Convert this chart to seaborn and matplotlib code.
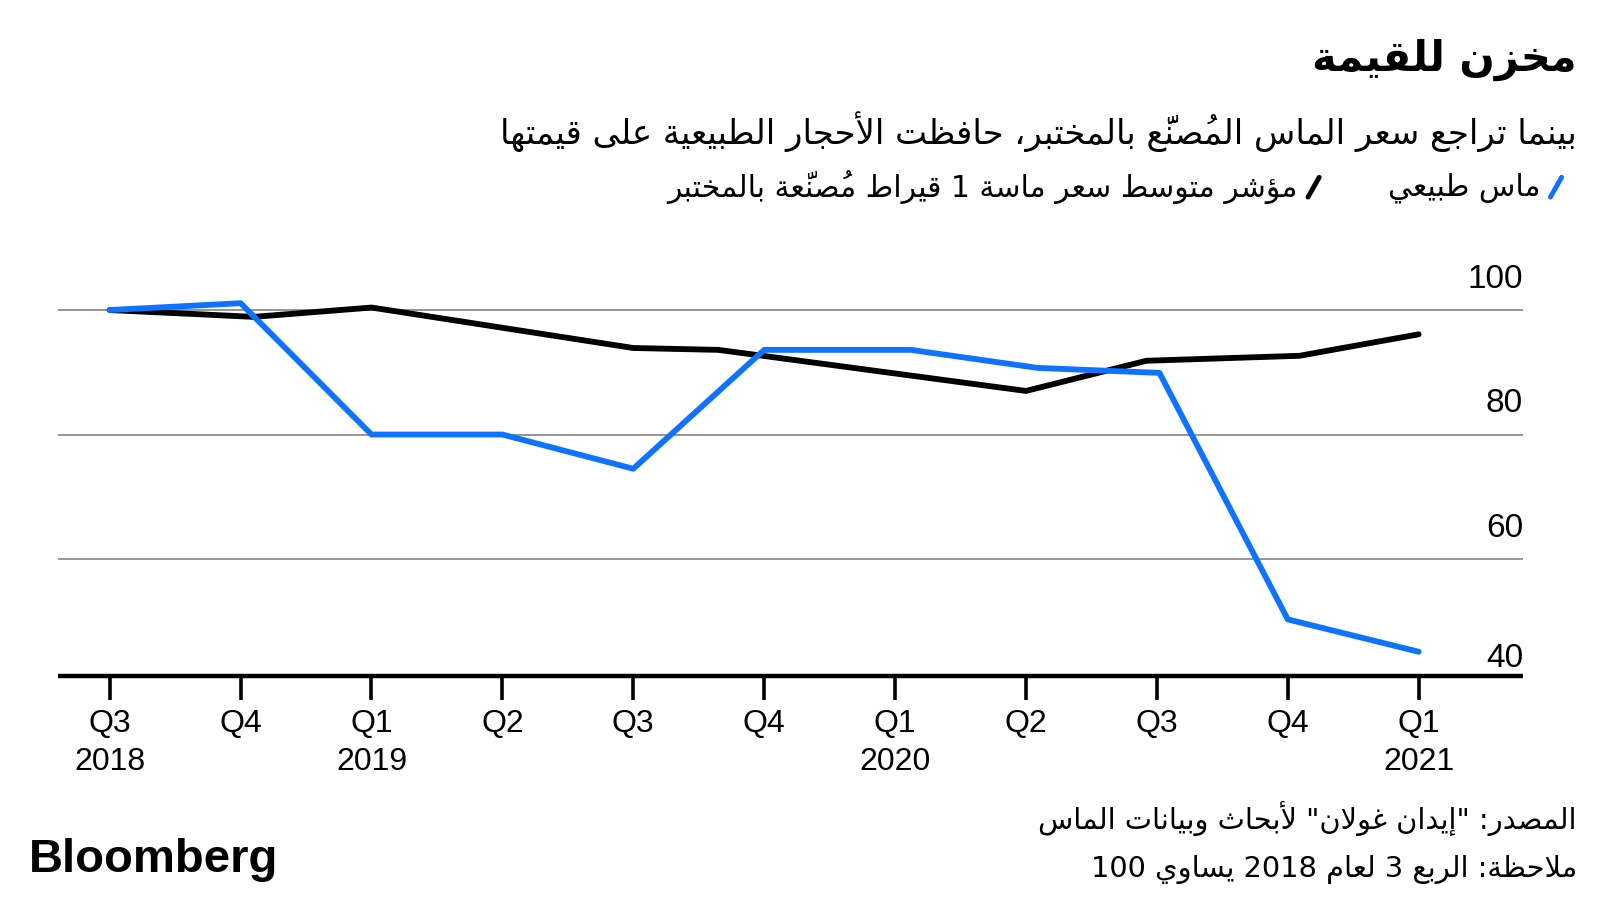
import re
import seaborn as sns
import pandas as pd
import matplotlib
matplotlib.use("Agg")
import matplotlib.pyplot as plt
import matplotlib.font_manager as fm
from matplotlib.lines import Line2D
from matplotlib.transforms import blended_transform_factory

''' Data (index = 100 at Q3 2018), x = quarter position from Q3 2018 '''

quarter_labels = ["Q3\n2018", "Q4", "Q1\n2019", "Q2", "Q3", "Q4",
                  "Q1\n2020", "Q2", "Q3", "Q4", "Q1\n2021"]

natural_x = [0, 1, 2, 3, 4, 5, 6.12, 7.09, 8.02, 9, 10]
natural_y = [100, 101.1, 80, 80, 74.5, 93.6, 93.6, 90.7, 89.9, 50.3, 45.1]

lab_x = [0, 1.1, 2, 4, 4.65, 7, 7.92, 9.09, 10]
lab_y = [100, 98.9, 100.4, 93.9, 93.6, 87.0, 91.85, 92.65, 96.1]

y_labels = [100, 80, 60, 40]

title = "مخزن للقيمة"
subtitle = "بينما تراجع سعر الماس المُصنَّع بالمختبر، حافظت الأحجار الطبيعية على قيمتها"
legend_natural = "ماس طبيعي"
legend_lab = "مؤشر متوسط سعر ماسة 1 قيراط مُصنَّعة بالمختبر"
source = "المصدر: \"إيدان غولان\" لأبحاث وبيانات الماس"
note = "ملاحظة: الربع 3 لعام 2018 يساوي 100"

BLUE = "#0F73FF"

''' Arabic shaping (matplotlib draws glyphs left to right, no joining) '''

AR_LETTERS = "ءآأؤإئابةتثجحخدذرزسشصضطظعغفقكلمنهوىي"
AR_NFORMS = [1, 2, 2, 2, 2, 4, 2, 4, 2, 4, 4, 4, 4, 4, 2, 2, 2, 2, 4, 4, 4, 4, 4, 4, 4, 4,
             4, 4, 4, 4, 4, 4, 4, 2, 2, 4]
FORMS = {}
code = 0xFE80
for ch, n in zip(AR_LETTERS, AR_NFORMS):
    FORMS[ch] = [code + k for k in range(n)]
    code += n
LAM_ALEF = {"ا": 0xFEFB, "أ": 0xFEF7, "إ": 0xFEF9, "آ": 0xFEF5}
MARKS = set(chr(c) for c in range(0x064B, 0x0653))


def ar(text):
    clusters = []
    for c in text:
        if c in MARKS and clusters:
            clusters[-1][1] += c
        else:
            clusters.append([c, ""])
    glyphs = []
    i = 0
    while i < len(clusters):
        c, m = clusters[i]
        if c not in FORMS:
            glyphs.append((c, m))
            i += 1
            continue
        prev = clusters[i - 1][0] if i > 0 else ""
        nxt = clusters[i + 1][0] if i + 1 < len(clusters) else ""
        join_prev = len(FORMS.get(prev, [])) == 4 and len(FORMS[c]) > 1
        if c == "ل" and nxt in LAM_ALEF:
            glyphs.append((chr(LAM_ALEF[nxt] + (1 if join_prev else 0)), m + clusters[i + 1][1]))
            i += 2
            continue
        join_next = len(FORMS[c]) == 4 and len(FORMS.get(nxt, [])) > 1
        idx = {(False, False): 0, (True, False): 1, (False, True): 2, (True, True): 3}[(join_prev, join_next)]
        glyphs.append((chr(FORMS[c][idx]), m))
        i += 1
    # marks have zero advance and sit over the glyph drawn after them
    s = "".join(m + g for g, m in glyphs[::-1])
    return re.sub(r"[0-9A-Za-z.]+", lambda mo: mo.group(0)[::-1], s)


''' Style '''

sns.set_theme(style="white")
names = {f.name for f in fm.fontManager.ttflist}
NUM_FONT = "Liberation Sans Narrow" if "Liberation Sans Narrow" in names else "Liberation Sans"
plt.rcParams["font.family"] = [NUM_FONT, "DejaVu Sans"]
plt.rcParams["text.color"] = "black"
plt.rcParams["xtick.color"] = "black"
AR_FONT = ["DejaVu Sans"]

fig = plt.figure(figsize=(16, 9), dpi=100)
fig.patch.set_facecolor("white")
ax = fig.add_axes([0.03625, 0.2492, 0.9156, 0.4409])

nat = pd.DataFrame({"x": natural_x, "y": natural_y})
lab = pd.DataFrame({"x": lab_x, "y": lab_y})

sns.lineplot(data=lab, x="x", y="y", ax=ax, color="black", lw=4.2, sort=False, zorder=3)
sns.lineplot(data=nat, x="x", y="y", ax=ax, color=BLUE, lw=4.2, sort=False, zorder=4)

ax.set_xlim(-0.395, 10.797)
ax.set_ylim(41.25, 105)
ax.set_xlabel("")
ax.set_ylabel("")

ax.set_yticks([60, 80, 100])
ax.set_yticklabels([])
ax.tick_params(axis="y", length=0, left=False)
ax.grid(axis="y", color="#8c8c8c", lw=1.3)
ax.grid(axis="x", visible=False)

ax.set_xticks(range(len(quarter_labels)))
ax.set_xticklabels(quarter_labels, fontsize=23, linespacing=1.35, family=NUM_FONT, color="black")
ax.tick_params(axis="x", bottom=True, direction="out", length=17, width=2.6,
               color="black", pad=7)

for side in ["top", "left", "right"]:
    ax.spines[side].set_visible(False)
ax.spines["bottom"].set_color("black")
ax.spines["bottom"].set_linewidth(3.2)
ax.spines["bottom"].set_capstyle("butt")

trans = blended_transform_factory(ax.transAxes, ax.transData)
for v in y_labels:
    ax.annotate(str(v), xy=(1, v), xycoords=trans, xytext=(0, 16 if v > 40 else 12),
                textcoords="offset points", ha="right", va="baseline", fontsize=24,
                family=NUM_FONT, color="black", annotation_clip=False)

''' Texts '''

fig.text(0.9856, 0.934, ar(title), ha="right", va="center", fontsize=30,
         fontweight="bold", family=AR_FONT)
fig.text(0.9856, 0.854, ar(subtitle), ha="right", va="center", fontsize=24.4, family=AR_FONT)
fig.text(0.9631, 0.792, ar(legend_natural), ha="right", va="center", fontsize=21.5, family=AR_FONT)
fig.text(0.8113, 0.792, ar(legend_lab), ha="right", va="center", fontsize=21.5, family=AR_FONT)
fig.add_artist(Line2D([0.9690, 0.9760], [0.781, 0.803], transform=fig.transFigure,
                      color=BLUE, lw=3.5, solid_capstyle="round"))
fig.add_artist(Line2D([0.8175, 0.8245], [0.781, 0.803], transform=fig.transFigure,
                      color="black", lw=3.5, solid_capstyle="round"))

fig.text(0.9856, 0.090, ar(source), ha="right", va="center", fontsize=20.8, family=AR_FONT)
fig.text(0.9856, 0.0344, ar(note), ha="right", va="center", fontsize=20.8, family=AR_FONT)
fig.text(0.018, 0.0444, "Bloomberg", ha="left", va="center", fontsize=34,
         fontweight="bold", family="Liberation Sans")

fig.savefig("out.png", dpi=100, facecolor="white")
